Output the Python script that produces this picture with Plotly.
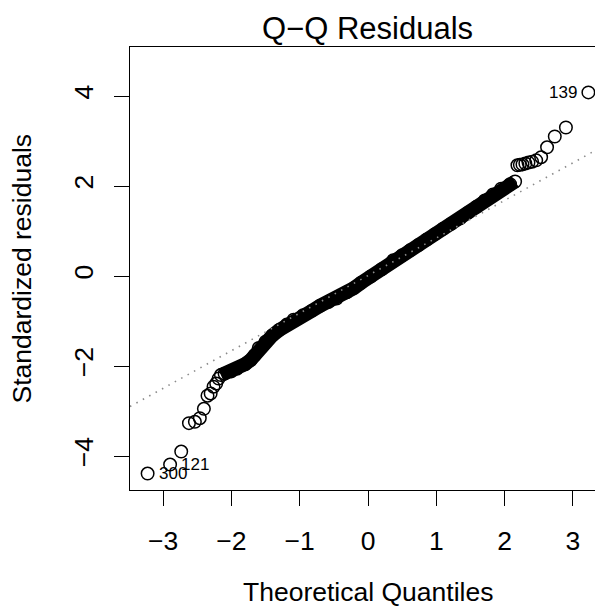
import plotly.graph_objects as go

# individual points in the two tails (theoretical quantile, standardized residual)
low_q = [-3.227, -2.898, -2.735, -2.622, -2.535, -2.463, -2.403, -2.350, -2.304, -2.262, -2.223, -2.188]
low_r = [-4.39, -4.19, -3.90, -3.27, -3.24, -3.16, -2.95, -2.66, -2.61, -2.46, -2.39, -2.28]
high_q = [2.188, 2.223, 2.262, 2.304, 2.350, 2.403, 2.463, 2.535, 2.622, 2.735, 2.898, 3.227]
high_r = [2.46, 2.47, 2.48, 2.50, 2.52, 2.54, 2.57, 2.64, 2.86, 3.10, 3.30, 4.08]

# dense middle of the plot, read along the band of overlapping points
body_q = [-2.154, -2.10, -2.00, -1.92, -1.80, -1.72, -1.66, -1.60, -1.50, -1.40, -1.30,
          -1.19, -1.09, -0.95, -0.82, -0.70, -0.58, -0.46, -0.31, -0.21, -0.10, 0.04,
          0.20, 0.37, 0.50, 0.615, 0.74, 0.86, 0.98, 1.10, 1.22, 1.35, 1.47, 1.59,
          1.71, 1.83, 1.95, 2.08, 2.154]
body_r = [-2.20, -2.17, -2.12, -2.06, -1.96, -1.87, -1.76, -1.60, -1.46, -1.32, -1.20,
          -1.08, -0.97, -0.87, -0.77, -0.66, -0.58, -0.50, -0.36, -0.27, -0.15, -0.01,
          0.15, 0.35, 0.46, 0.57, 0.69, 0.81, 0.93, 1.05, 1.16, 1.28, 1.41, 1.54,
          1.68, 1.81, 1.94, 2.04, 2.10]

# labelled observations
label_ids = ["300", "121", "139"]
label_q = [-3.227, -2.898, 3.227]
label_r = [-4.39, -4.19, 4.08]

# qqline
line_intercept = 0.01
line_slope = 0.835

x_range = [-3.485, 3.441]
y_range = [-4.755, 5.089]

font = "Liberation Sans, Arial, Helvetica, sans-serif"

fig = go.Figure()

fig.add_trace(go.Scatter(x=body_q, y=body_r, mode="lines",
                         line=dict(color="black", width=14), hoverinfo="skip"))
pts_q = low_q + body_q + high_q
pts_r = low_r + body_r + high_r
fig.add_trace(go.Scatter(x=pts_q, y=pts_r, mode="markers",
                         marker=dict(symbol="circle-open", size=12.5, color="black",
                                     line=dict(width=1.5, color="black"))))
fig.add_trace(go.Scatter(x=x_range,
                         y=[line_intercept + line_slope * v for v in x_range],
                         mode="lines",
                         line=dict(color="#8a8a8a", width=1.6, dash="1.5px,5.8px")))

for lab, q, r in zip(label_ids, label_q, label_r):
    right = q < 0
    fig.add_annotation(x=q, y=r, text=lab, showarrow=False,
                       xanchor="left" if right else "right",
                       xshift=9 if right else -9,
                       font=dict(size=17, color="black", family=font))

fig.add_annotation(text="Q\u2212Q Residuals", xref="paper", yref="paper",
                   x=0.503, y=1, yanchor="middle", yshift=19, showarrow=False,
                   font=dict(size=31, color="black", family=font))
fig.add_annotation(text="Theoretical Quantiles", xref="paper", yref="paper",
                   x=0.503, y=0, yanchor="middle", yshift=-102, showarrow=False,
                   font=dict(size=26.5, color="black", family=font))
fig.add_annotation(text="Standardized residuals", xref="paper", yref="paper",
                   x=0, y=0.5, xanchor="center", xshift=-109, textangle=-90,
                   showarrow=False, font=dict(size=26.5, color="black", family=font))

# the page body adds an 8px offset, so margins are trimmed by that amount
fig.update_layout(
    width=603, height=615,
    margin=dict(l=122, r=8, t=39, b=133),
    plot_bgcolor="white", paper_bgcolor="white",
    showlegend=False,
    font=dict(family=font, size=26.5, color="black"),
)
fig.update_xaxes(range=x_range, tickvals=[-3, -2, -1, 0, 1, 2, 3],
                 ticks="outside", ticklen=15, tickwidth=1.3, tickcolor="black",
                 showline=True, linecolor="black", linewidth=1.3, mirror=True,
                 showgrid=False, zeroline=False, ticklabelstandoff=12,
                 automargin=False)
fig.update_yaxes(range=y_range, tickvals=[-4, -2, 0, 2, 4], tickangle=-90,
                 ticks="outside", ticklen=15, tickwidth=1.3, tickcolor="black",
                 showline=True, linecolor="black", linewidth=1.3,
                 showgrid=False, zeroline=False, ticklabelstandoff=10,
                 automargin=False)

fig.write_html("out.html")
